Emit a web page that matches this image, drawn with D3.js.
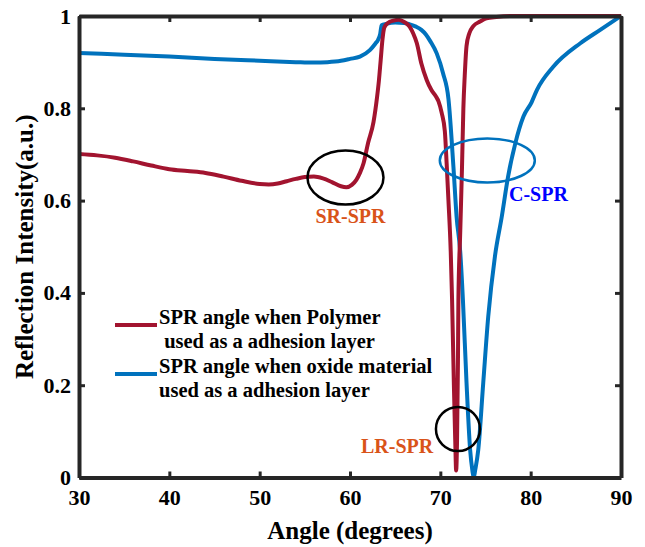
<!DOCTYPE html>
<html lang="en">
<head>
<meta charset="UTF-8">
<title>SPR reflection</title>
<script src="https://cdn.jsdelivr.net/npm/d3@7"></script>
<style>
  body { margin: 0; background: #fff; }
  text { font-family: 'Liberation Serif', 'Times New Roman', serif; font-weight: bold; }
</style>
</head>
<body>
<div id="chart"></div>
<script>
// polymer adhesion layer (red)
const polymerAngle = [30, 32, 34, 36, 38, 40, 42, 44, 46, 48, 50, 51, 52, 53, 54, 55, 56, 57, 58, 59, 59.6,
  60.2, 60.7, 61.1, 61.5, 62.0, 62.6, 63.0, 63.2, 63.4, 63.6, 63.8, 64.2, 64.8, 65.4, 66.0, 66.6, 67.0,
  67.4, 67.9, 68.5, 69.0, 69.5, 69.8, 70.15, 70.5, 70.7, 70.9, 71.15, 71.3, 71.5, 71.65, 71.75, 71.85,
  71.95, 72.0, 72.2, 72.4, 72.55, 72.7, 72.9, 73.2, 73.65, 74.4, 75.1, 76.2, 78, 90];
const polymerValue = [0.701, 0.698, 0.693, 0.685, 0.676, 0.668, 0.664, 0.660, 0.652, 0.643, 0.636, 0.635,
  0.637, 0.642, 0.647, 0.651, 0.652, 0.648, 0.640, 0.631, 0.629, 0.634, 0.645, 0.660, 0.681, 0.725, 0.770,
  0.825, 0.86, 0.905, 0.95, 0.975, 0.985, 0.990, 0.992, 0.987, 0.977, 0.962, 0.941, 0.897, 0.861, 0.840,
  0.826, 0.815, 0.79, 0.750, 0.68, 0.60, 0.49, 0.385, 0.20, 0.08, 0.015, 0.08, 0.25, 0.385, 0.53, 0.673,
  0.80, 0.87, 0.935, 0.962, 0.978, 0.988, 0.995, 0.998, 1.0, 1.0];

// oxide adhesion layer (blue)
const oxideAngle = [30, 35, 40, 45, 50, 54, 56, 57.5, 59, 60, 61.1, 62.2, 62.8, 63.1, 63.35, 63.5, 64.0,
  65.0, 66.0, 66.6, 67.3, 67.9, 68.4, 68.9, 69.6, 70.3, 70.9, 71.45, 71.8, 72.2, 72.5, 72.9, 73.3, 73.55,
  73.7, 73.85, 74.2, 74.75, 75.3, 76.05, 76.8, 77.5, 78.3, 79.2, 80.1, 80.7, 82.5, 85.5, 87.7, 90];
const oxideValue = [0.920, 0.916, 0.912, 0.907, 0.903, 0.900, 0.899, 0.900, 0.903, 0.907, 0.912, 0.926,
  0.940, 0.948, 0.962, 0.980, 0.983, 0.986, 0.985, 0.982, 0.977, 0.970, 0.960, 0.945, 0.919, 0.876, 0.820,
  0.673, 0.565, 0.49, 0.385, 0.205, 0.06, 0.015, 0.0, 0.015, 0.06, 0.205, 0.348, 0.48, 0.565, 0.652, 0.724,
  0.782, 0.813, 0.84, 0.89, 0.941, 0.970, 1.0];

const xTicks = [30, 40, 50, 60, 70, 80, 90];
const yTicks = [0, 0.2, 0.4, 0.6, 0.8, 1];
const yTickLabels = ["0", "0.2", "0.4", "0.6", "0.8", "1"];

const legendLabels = [
  ["SPR angle when Polymer", " used as a adhesion layer"],
  ["SPR angle when oxide material", "used as a adhesion layer"]
];

const red = "#A2142F", blue = "#0072BD", axisColor = "#262626", orange = "#D95319";

const width = 645, height = 547;
const plotLeft = 79, plotRight = 621, plotTop = 16, plotBottom = 477.5;

const svg = d3.select("#chart").append("svg")
  .attr("width", width)
  .attr("height", height);

const x = d3.scaleLinear().domain([30, 90]).range([plotLeft, plotRight]);
const y = d3.scaleLinear().domain([0, 1]).range([plotBottom, plotTop]);

const line = d3.line()
  .x(d => x(d[0]))
  .y(d => y(d[1]))
  .curve(d3.curveMonotoneX);

const polymer = polymerAngle.map((a, i) => [a, polymerValue[i]]);
const oxide = oxideAngle.map((a, i) => [a, oxideValue[i]]);

svg.append("path")
  .attr("d", line(oxide))
  .attr("fill", "none")
  .attr("stroke", blue)
  .attr("stroke-width", 4);

svg.append("path")
  .attr("d", line(polymer))
  .attr("fill", "none")
  .attr("stroke", red)
  .attr("stroke-width", 4);

// axes (box with inward ticks)
function styleAxis(g) {
  g.select(".domain").attr("stroke", axisColor).attr("stroke-width", 4);
  g.selectAll(".tick line").attr("stroke", axisColor).attr("stroke-width", 3);
  g.selectAll(".tick text").attr("fill", "#000").style("font-size", "22px");
}

svg.append("g")
  .attr("transform", `translate(0,${plotBottom})`)
  .call(d3.axisBottom(x).tickValues(xTicks).tickSize(-6).tickSizeOuter(0).tickPadding(12))
  .call(styleAxis);

svg.append("g")
  .attr("transform", `translate(0,${plotTop})`)
  .call(d3.axisTop(x).tickValues(xTicks).tickSize(-6).tickSizeOuter(0).tickFormat(""))
  .call(styleAxis);

svg.append("g")
  .attr("transform", `translate(${plotLeft},0)`)
  .call(d3.axisLeft(y).tickValues(yTicks).tickSize(-6).tickSizeOuter(0).tickPadding(8)
    .tickFormat((d, i) => yTickLabels[i]))
  .call(styleAxis);

svg.append("g")
  .attr("transform", `translate(${plotRight},0)`)
  .call(d3.axisRight(y).tickValues(yTicks).tickSize(-6).tickSizeOuter(0).tickFormat(""))
  .call(styleAxis);

// axis titles
svg.append("text")
  .attr("x", (plotLeft + plotRight) / 2)
  .attr("y", 539)
  .attr("text-anchor", "middle")
  .style("font-size", "25px")
  .text("Angle (degrees)");

svg.append("text")
  .attr("transform", `translate(33,${(plotTop + plotBottom) / 2}) rotate(-90)`)
  .attr("text-anchor", "middle")
  .style("font-size", "25px")
  .text("Reflection Intensity(a.u.)");

// annotations
svg.append("ellipse")
  .attr("cx", x(59.5)).attr("cy", y(0.65)).attr("rx", 38).attr("ry", 27)
  .attr("fill", "none").attr("stroke", "#000").attr("stroke-width", 2.5);
svg.append("text")
  .attr("x", x(59.5) + 5).attr("y", 223)
  .attr("text-anchor", "middle").attr("fill", orange).style("font-size", "20px")
  .text("SR-SPR");

svg.append("ellipse")
  .attr("cx", x(75.2)).attr("cy", y(0.687)).attr("rx", 47.5).attr("ry", 22)
  .attr("fill", "none").attr("stroke", blue).attr("stroke-width", 2.5);
svg.append("text")
  .attr("x", 509).attr("y", 201)
  .attr("fill", "#0000FF").style("font-size", "20px")
  .text("C-SPR");

svg.append("circle")
  .attr("cx", x(71.95)).attr("cy", y(0.105)).attr("r", 22)
  .attr("fill", "none").attr("stroke", "#000").attr("stroke-width", 2.5);
svg.append("text")
  .attr("x", 361).attr("y", 453)
  .attr("fill", orange).style("font-size", "20px")
  .text("LR-SPR");

// legend
const legend = svg.append("g");
[red, blue].forEach((c, i) => {
  const by = i === 0 ? 324 : 373;
  legend.append("line")
    .attr("x1", 115).attr("x2", 157)
    .attr("y1", by + 1).attr("y2", by + 1)
    .attr("stroke", c).attr("stroke-width", 4);
  legendLabels[i].forEach((t, j) => {
    legend.append("text")
      .attr("x", 159).attr("y", by + j * 24)
      .attr("fill", "#000")
      .style("font-size", "20.5px")
      .style("white-space", "pre")
      .attr("xml:space", "preserve")
      .text(t);
  });
});
</script>
</body>
</html>
